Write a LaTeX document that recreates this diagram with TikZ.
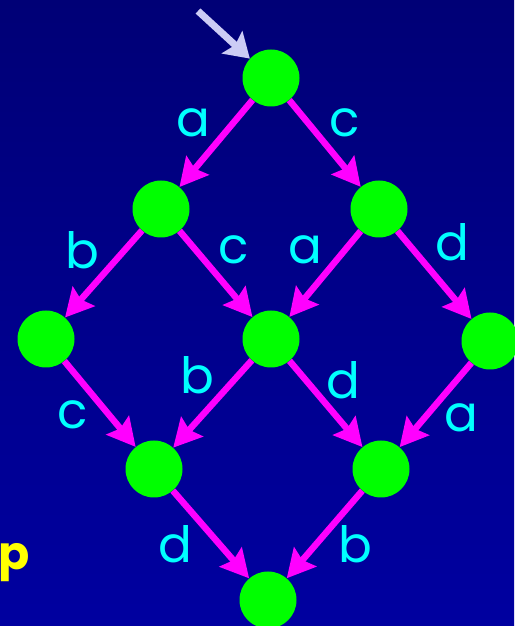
\documentclass[tikz,border=0pt]{standalone}
\usepackage{fontspec}
\newfontfamily\lblfont{Poppins}
\usepackage{tikz}
\usetikzlibrary{positioning,arrows.meta}
\definecolor{bgtop}{RGB}{0,0,118}
\definecolor{bgbot}{RGB}{0,0,160}
\definecolor{stategreen}{RGB}{0,255,0}
\definecolor{transmag}{RGB}{255,0,255}
\definecolor{lblcyan}{RGB}{0,255,255}
\definecolor{initlav}{RGB}{204,204,245}
\definecolor{sideyellow}{RGB}{255,255,0}

\begin{document}
\begin{tikzpicture}[
  x=1pt, y=1pt,
  state/.style={circle, fill=stategreen, minimum size=57pt, inner sep=0pt},
  trans/.style={draw=transmag, line width=6.5pt, -{Stealth[length=28pt, width=29pt, inset=4pt]}},
  init/.style={draw=initlav, line width=7pt, -{Stealth[length=24pt, width=30pt, inset=4pt]}},
  lbl/.style={text=lblcyan, font=\lblfont\fontsize{50}{50}\selectfont, inner sep=0pt},
  on grid
]
\useasboundingbox (0,0) rectangle (514,626);
\fill[top color=bgtop, bottom color=bgbot] (0,0) rectangle (514,626);

\node[state] (e) at (271,548) {};
\node[state, below left=131pt and 110pt of e] (a) {};
\node[state, below right=131pt and 108pt of e] (c) {};
\node[state, below left=130pt and 115pt of a] (ab) {};
\node[state, below right=130pt and 110pt of a] (ac) {};
\node[state, below right=132pt and 111pt of c] (cd) {};
\node[state, below left=130pt and 117pt of ac] (abc) {};
\node[state, below right=130pt and 110pt of ac] (acd) {};
\node[state, below right=131pt and 114pt of abc] (abcd) {};

\coordinate (start) at (198,615);
\draw[init] (start) -- (e);

\draw[trans] (e) -- (a) node[lbl, midway, xshift=-23pt, yshift=21pt] {a};
\draw[trans] (e) -- (c) node[lbl, midway, xshift=20pt, yshift=21pt] {c};
\draw[trans] (a) -- (ab) node[lbl, midway, xshift=-21pt, yshift=24pt] {b};
\draw[trans] (a) -- (ac) node[lbl, midway, xshift=18pt, yshift=24pt] {c};
\draw[trans] (c) -- (ac) node[lbl, midway, xshift=-20pt, yshift=24pt] {a};
\draw[trans] (c) -- (cd) node[lbl, midway, xshift=18pt, yshift=33pt] {d};
\draw[trans] (ac) -- (abc) node[lbl, midway, xshift=-15pt, yshift=29pt] {b};
\draw[trans] (ac) -- (acd) node[lbl, midway, xshift=17pt, yshift=24pt] {d};
\draw[trans] (ab) -- (abc) node[lbl, midway, xshift=-27pt, yshift=-11pt] {c};
\draw[trans] (cd) -- (acd) node[lbl, midway, xshift=26pt, yshift=-13pt] {a};
\draw[trans] (abc) -- (abcd) node[lbl, midway, xshift=-36pt, yshift=-10pt] {d};
\draw[trans] (acd) -- (abcd) node[lbl, midway, xshift=31pt, yshift=-10pt] {b};

% cut-off text at the left edge
\node[anchor=base east, inner sep=0pt, text=sideyellow, font=\lblfont\bfseries\fontsize{46}{46}\selectfont] (side) at (30,56) {op};
\end{tikzpicture}
\end{document}
